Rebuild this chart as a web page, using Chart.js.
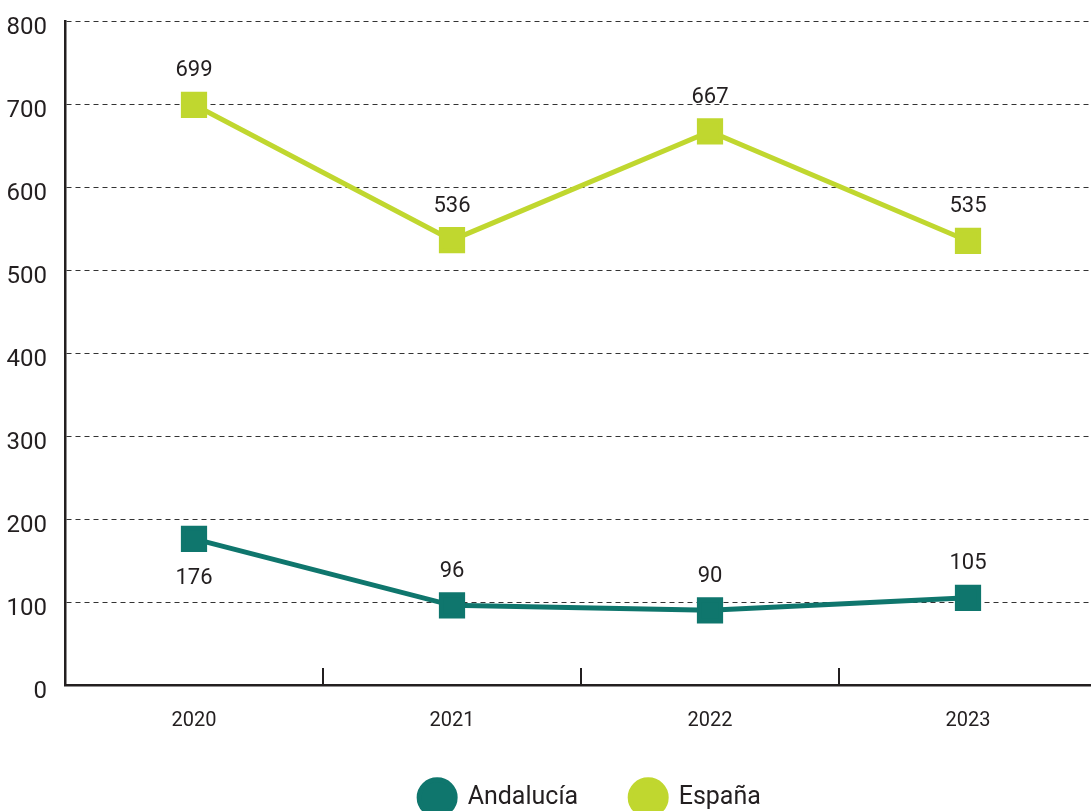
<!DOCTYPE html>
<html>
<head>
<meta charset="utf-8">
<script src="https://cdn.jsdelivr.net/npm/chart.js@4.4.0/dist/chart.umd.min.js"></script>
<style>
    html, body { margin: 0; padding: 0; overflow: hidden; background: #fff; }
    #myChart { position: absolute; left: 0; top: 0; }
</style>
</head>
<body>
<canvas id="myChart" width="1100" height="820"></canvas>
<script>
// datos
const years = ['2020', '2021', '2022', '2023'];
const andalucia = [176, 96, 90, 105];
const espana = [699, 536, 667, 535];
const yTicks = [0, 100, 200, 300, 400, 500, 600, 700, 800];

const textColor = '#231f20';
const axisColor = '#231f20';
const fontName = 'Roboto';

// etiquetas de valor encima / debajo de cada punto
const valueLabels = {
    id: 'valueLabels',
    afterDatasetsDraw(chart) {
        const ctx = chart.ctx;
        ctx.save();
        ctx.font = `22px ${fontName}`;
        ctx.fillStyle = textColor;
        ctx.textAlign = 'center';
        ctx.textBaseline = 'middle';
        chart.data.datasets.forEach((ds, i) => {
            chart.getDatasetMeta(i).data.forEach((pt, j) => {
                let below = ds.labelBelow && ds.labelBelow[j];
                ctx.fillText(ds.data[j], pt.x, below ? pt.y + 40 : pt.y - 34);
            });
        });
        ctx.restore();
    }
};

// marcas entre categorias en el eje x
const categoryTicks = {
    id: 'categoryTicks',
    afterLayout(chart) {
        // la leyenda del original esta algo desplazada a la derecha
        chart.legend.left += 9;
        chart.legend.right += 9;
    },
    afterDraw(chart) {
        const x = chart.scales.x;
        const ctx = chart.ctx;
        const bottom = chart.chartArea.bottom;
        ctx.save();
        ctx.strokeStyle = axisColor;
        ctx.lineWidth = 2;
        for (let i = 1; i < years.length; i++) {
            let px = Math.round((x.getPixelForValue(i - 1) + x.getPixelForValue(i)) / 2);
            ctx.beginPath();
            ctx.moveTo(px, bottom);
            ctx.lineTo(px, bottom - 17);
            ctx.stroke();
        }
        ctx.restore();
    }
};

const ctx = document.getElementById('myChart').getContext('2d');

const config = {
    type: 'line',
    data: {
        labels: years,
        datasets: [
            {
                label: 'Andalucía',
                data: andalucia,
                borderColor: '#0f766d',
                backgroundColor: '#0f766d',
                borderWidth: 5,
                pointStyle: 'rect',
                pointRadius: 15,
                pointHoverRadius: 15,
                tension: 0,
                labelBelow: [true, false, false, false],
            },
            {
                label: 'España',
                data: espana,
                borderColor: '#c0d72f',
                backgroundColor: '#c0d72f',
                borderWidth: 5,
                pointStyle: 'rect',
                pointRadius: 15,
                pointHoverRadius: 15,
                tension: 0,
            }
        ]
    },
    options: {
        responsive: false,
        animation: false,
        layout: { autoPadding: false, padding: { top: 21, right: 3, left: 0, bottom: 0 } },
        plugins: {
            tooltip: { enabled: false },
            legend: {
                position: 'bottom',
                fullSize: false,
                labels: {
                    usePointStyle: true,
                    pointStyle: 'circle',
                    pointStyleWidth: 36,
                    color: textColor,
                    padding: 52,
                    font: { family: fontName, size: 25 },
                }
            }
        },
        scales: {
            x: {
                offset: true,
                border: { display: true, color: axisColor, width: 2.5 },
                grid: { display: false },
                ticks: {
                    color: textColor,
                    padding: 16,
                    font: { family: fontName, size: 20 },
                },
                afterFit(scale) { scale.height = 48; }
            },
            y: {
                min: 0,
                max: 800,
                afterBuildTicks(scale) { scale.ticks = yTicks.map(v => ({ value: v })); },
                grid: {
                    color: '#333',
                    lineWidth: 1,
                    drawTicks: false,
                },
                border: { display: true, color: axisColor, width: 2.5, dash: [5, 4] },
                ticks: {
                    color: textColor,
                    padding: 18,
                    labelOffset: 7,
                    font: { family: fontName, size: 24 },
                },
                afterFit(scale) {
                    scale.width = 65;
                    scale.paddingTop = 0;
                    scale.paddingBottom = 0;
                }
            }
        }
    },
    plugins: [valueLabels, categoryTicks]
};

const chart = new Chart(ctx, config);
</script>
</body>
</html>
